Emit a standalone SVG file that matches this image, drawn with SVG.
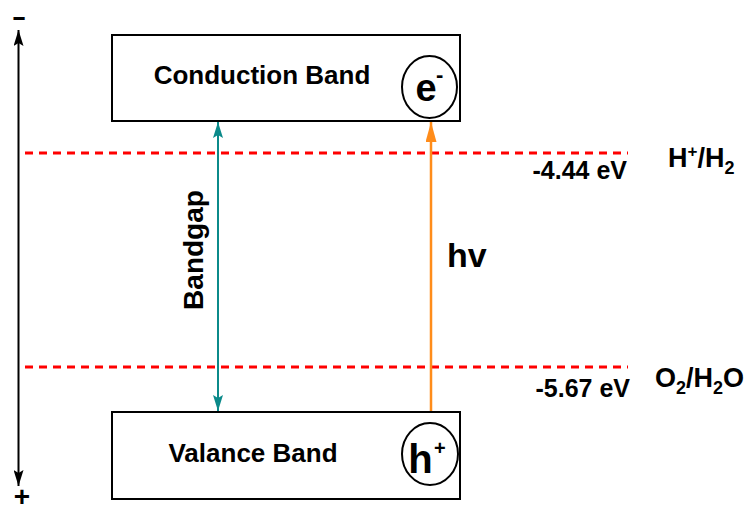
<svg xmlns="http://www.w3.org/2000/svg" width="749" height="512" viewBox="0 0 749 512">
<defs>
<style>
.box{fill:#fff;stroke:#000;stroke-width:2}
.circ{fill:none;stroke:#000;stroke-width:2}
.dash{stroke:#ff0000;stroke-width:3;stroke-dasharray:8 6;fill:none}
.t{font-family:"Liberation Sans",Arial,sans-serif;font-weight:bold;fill:#000}
</style>
<marker id="ab" viewBox="0 0 16 10" refX="16" refY="5" markerWidth="16" markerHeight="10" markerUnits="userSpaceOnUse" orient="auto-start-reverse">
<path d="M0,0 L16,5 L0,10 L3,5 Z" fill="#000"/>
</marker>
<marker id="at" viewBox="0 0 16 10" refX="16" refY="5" markerWidth="16" markerHeight="10" markerUnits="userSpaceOnUse" orient="auto-start-reverse">
<path d="M0,0 L16,5 L0,10 L3,5 Z" fill="#0b8a8a"/>
</marker>
<marker id="ao" viewBox="0 0 20 11" refX="20" refY="5.5" markerWidth="20" markerHeight="11" markerUnits="userSpaceOnUse" orient="auto-start-reverse">
<path d="M0,0 L20,5.5 L0,11 Z" fill="#ff8c1a"/>
</marker>
</defs>
<g id="connectors">
<line class="dash" x1="25" y1="153" x2="628" y2="153"/>
<line class="dash" x1="25" y1="367" x2="628" y2="367"/>
<line x1="18.5" y1="486" x2="18.5" y2="30" stroke="#000" stroke-width="2" marker-start="url(#ab)" marker-end="url(#ab)"/>
<line x1="218" y1="411" x2="218" y2="122" stroke="#0b8a8a" stroke-width="2" marker-start="url(#at)" marker-end="url(#at)"/>
<line x1="431" y1="423" x2="431" y2="122" stroke="#ff8c1a" stroke-width="2.5" marker-end="url(#ao)"/>
</g>
<g id="conduction-band">
<rect class="box" x="112" y="35" width="348" height="86"/>
<text class="t" x="262" y="84" font-size="26" text-anchor="middle">Conduction Band</text>
</g>
<g id="electron">
<ellipse class="circ" cx="429.5" cy="87" rx="27.5" ry="31"/>
<text class="t" x="426" y="101" font-size="38" text-anchor="middle">e</text>
<text class="t" x="436" y="82" font-size="22">-</text>
</g>
<g id="valance-band">
<rect class="box" x="112" y="412" width="348" height="87"/>
<text class="t" x="253" y="462" font-size="26" text-anchor="middle">Valance Band</text>
</g>
<g id="hole">
<ellipse class="circ" cx="430" cy="454" rx="28" ry="31"/>
<text class="t" x="420.5" y="473" font-size="40" text-anchor="middle">h</text>
<text class="t" x="434" y="455" font-size="20">+</text>
</g>
<g id="bandgap-label">
<text class="t" transform="translate(203,250) rotate(-90)" font-size="28" text-anchor="middle">Bandgap</text>
</g>
<g id="hv-label">
<text class="t" x="447" y="267" font-size="34">hv</text>
</g>
<g id="labels">
<text class="t" x="627" y="179" font-size="25" text-anchor="end">-4.44 eV</text>
<text class="t" x="668" y="167" font-size="27">H<tspan font-size="17" dy="-10">+</tspan><tspan dy="10">/H</tspan><tspan font-size="18" dy="7">2</tspan></text>
<text class="t" x="630" y="397" font-size="25" text-anchor="end">-5.67 eV</text>
<text class="t" x="655" y="387" font-size="27">O<tspan font-size="18" dy="7">2</tspan><tspan dy="-7">/H</tspan><tspan font-size="18" dy="7">2</tspan><tspan dy="-7">O</tspan></text>
<text class="t" transform="translate(19,25) scale(2.2,1.3)" font-size="20" text-anchor="middle">-</text>
<text class="t" x="22" y="506" font-size="28" text-anchor="middle">+</text>
</g>
</svg>
